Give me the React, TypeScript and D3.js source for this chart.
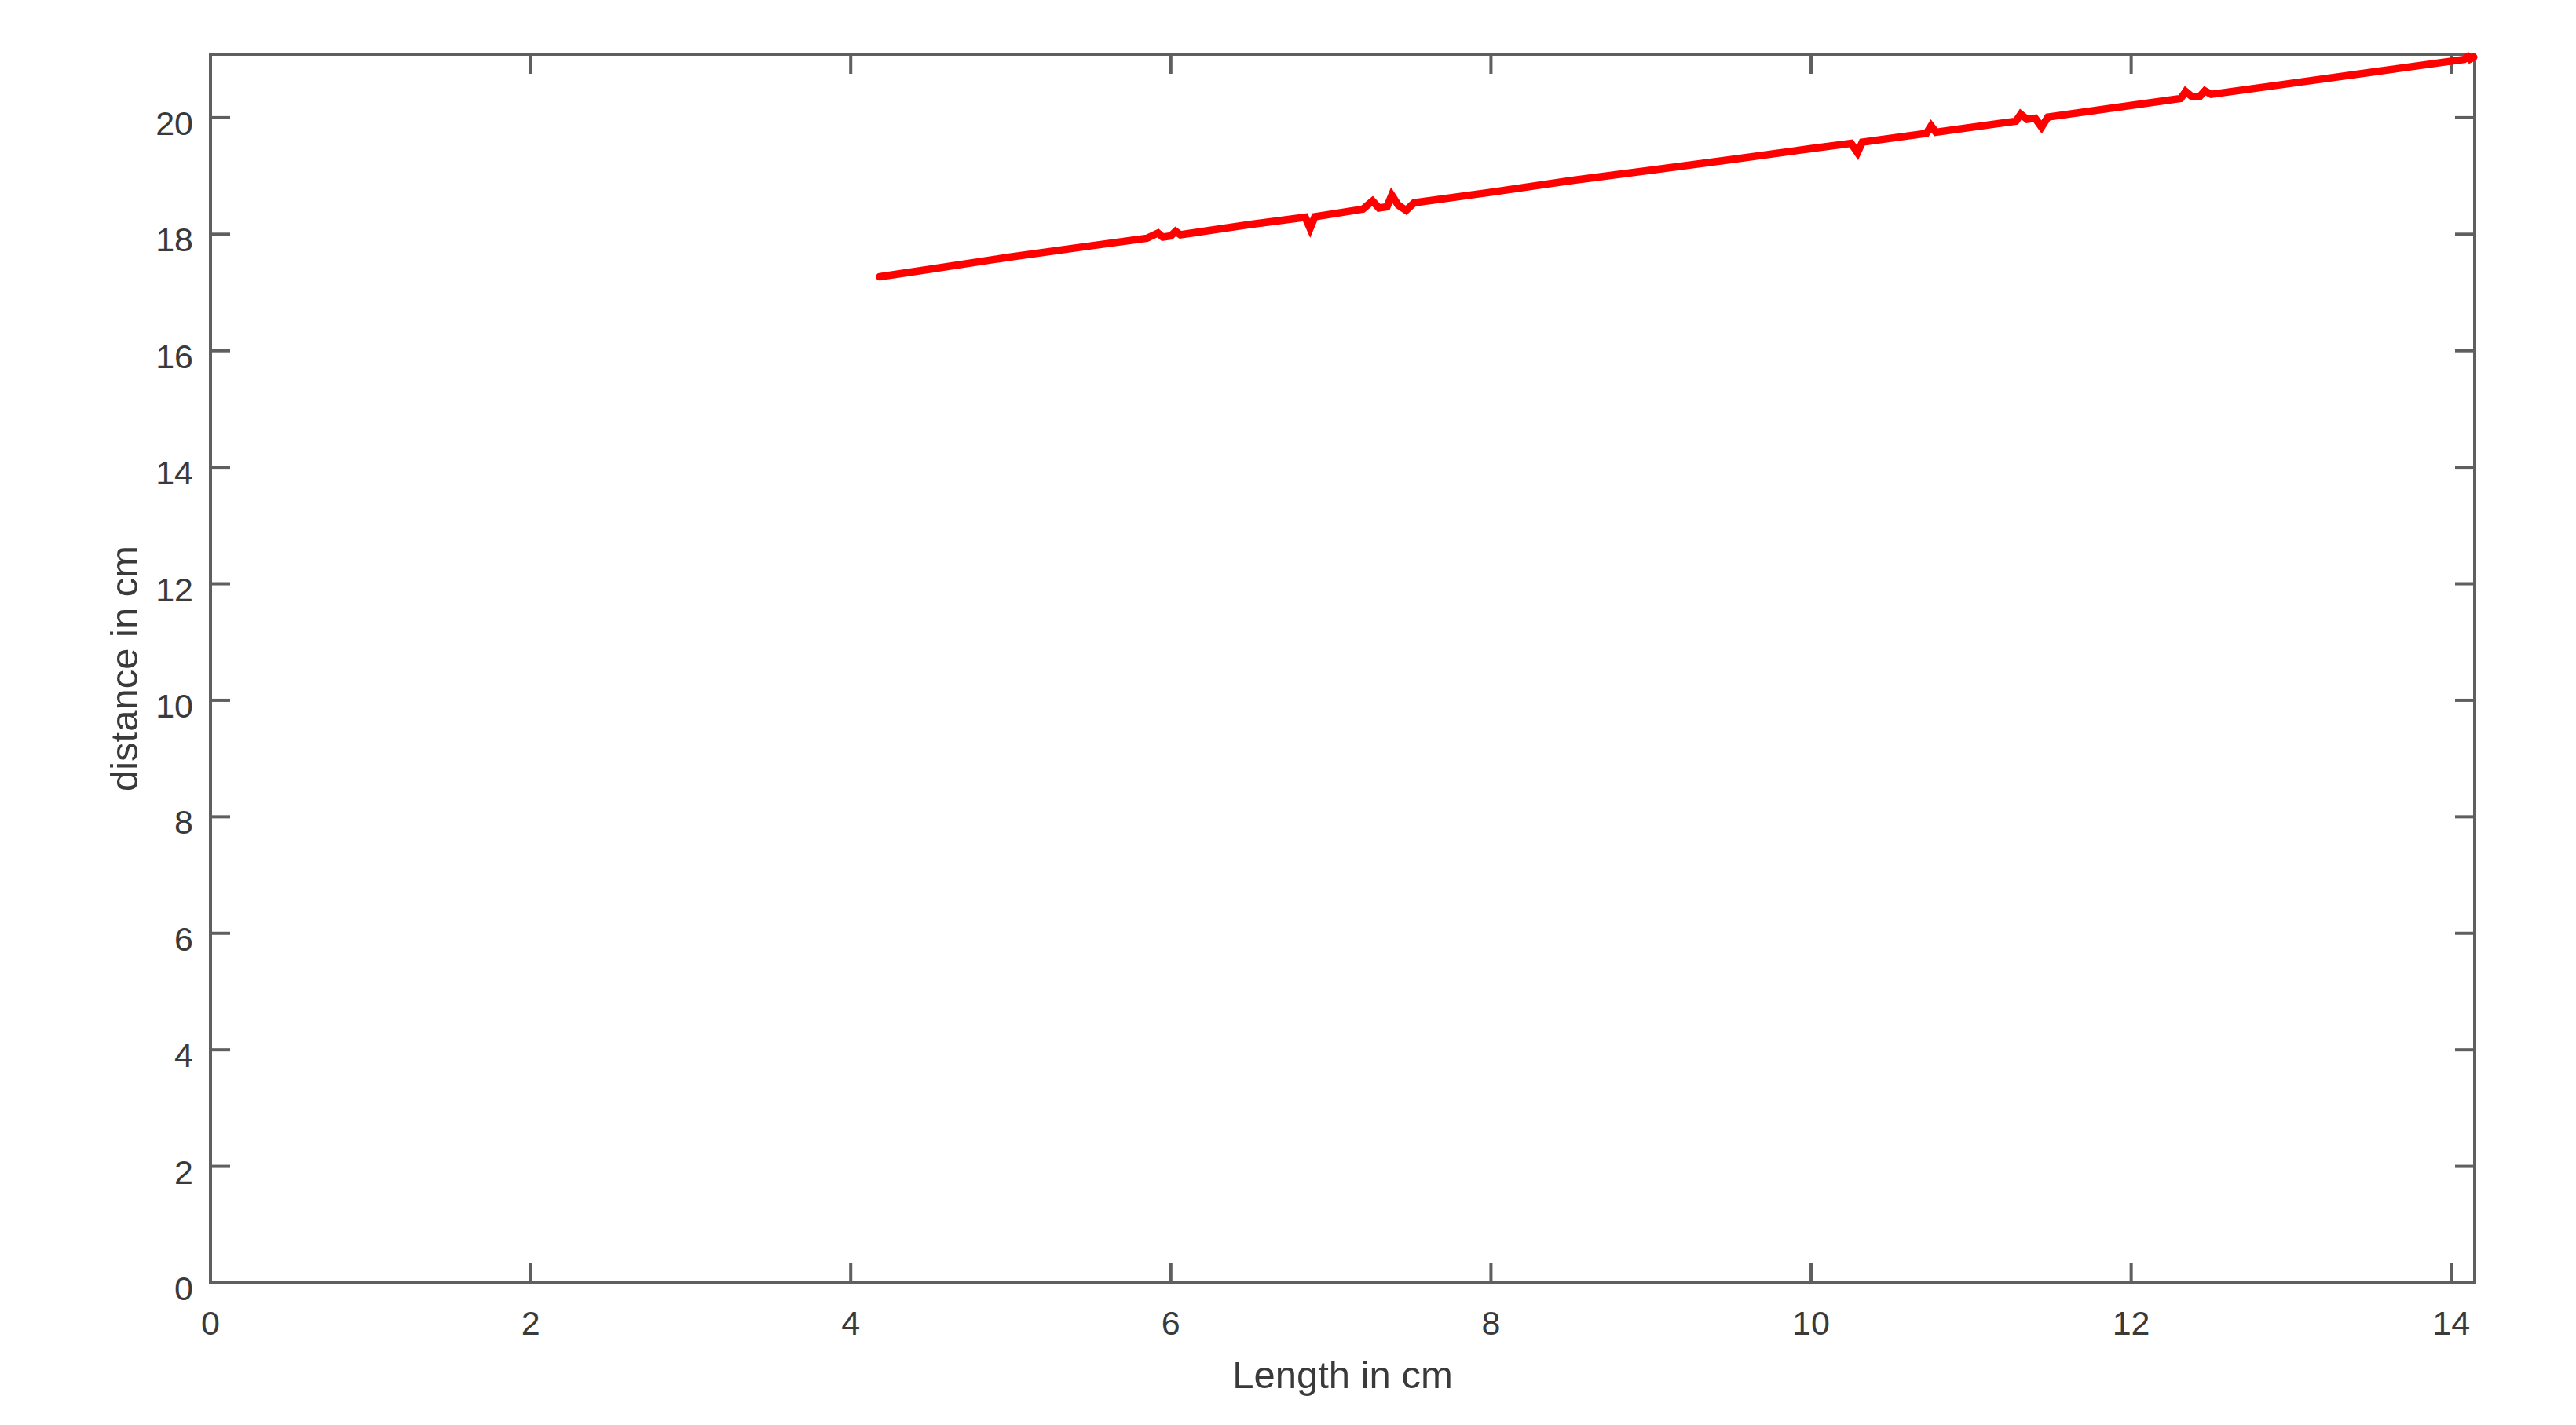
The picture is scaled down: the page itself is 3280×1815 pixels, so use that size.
import React from "react";
import * as d3 from "d3";

const xValues = [4.18, 4.5, 5.0, 5.5, 5.85, 5.92, 5.95, 6.0, 6.03, 6.06, 6.5, 6.84, 6.87, 6.9, 7.2, 7.26, 7.3, 7.35, 7.38, 7.42, 7.47, 7.52, 8.0, 8.5, 9.0, 9.5, 10.0, 10.25, 10.29, 10.32, 10.72, 10.75, 10.78, 11.28, 11.31, 11.35, 11.4, 11.44, 11.48, 12.0, 12.31, 12.34, 12.38, 12.43, 12.46, 12.5, 13.0, 13.5, 14.0, 14.08, 14.12, 14.1, 14.14];
const yValues = [17.27, 17.4, 17.61, 17.8, 17.93, 18.02, 17.95, 17.97, 18.05, 17.99, 18.17, 18.29, 18.1, 18.3, 18.43, 18.57, 18.45, 18.47, 18.67, 18.5, 18.41, 18.54, 18.72, 18.92, 19.1, 19.28, 19.47, 19.56, 19.4, 19.58, 19.73, 19.86, 19.75, 19.94, 20.06, 19.97, 19.99, 19.84, 20.01, 20.21, 20.33, 20.45, 20.36, 20.37, 20.46, 20.4, 20.59, 20.78, 20.97, 21.0, 21.08, 20.98, 21.04];
const xTicks = [0, 2, 4, 6, 8, 10, 12, 14];
const yTicks = [0, 2, 4, 6, 8, 10, 12, 14, 16, 18, 20];
const xLabel = "Length in cm";
const yLabel = "distance in cm";

export default function App() {
  const W = 3280, H = 1815;
  const L = 268, R = 3151, T = 69, B = 1634;
  const x = d3.scaleLinear().domain([0, 14.146]).range([L, R]);
  const y = d3.scaleLinear().domain([0, 21.09]).range([B, T]);
  const pts: [number, number][] = xValues.map((v, i) => [v, yValues[i]]);
  const line = d3.line<[number, number]>().x(d => x(d[0])).y(d => y(d[1]));
  const tickLen = 25;
  const frameColor = "#5f5f5f";
  const textColor = "#3a3a3a";
  const font = "'Liberation Sans', Arial, sans-serif";
  return (
    <svg width={W} height={H} style={{ position: "absolute", left: 0, top: 0, background: "#fff" }}>
      <rect x={0} y={0} width={W} height={H} fill="#fff" />
      {xTicks.map(t => (
        <g key={"xt" + t}>
          <line x1={x(t)} x2={x(t)} y1={B} y2={B - tickLen} stroke={frameColor} strokeWidth={4} />
          <line x1={x(t)} x2={x(t)} y1={T} y2={T + tickLen} stroke={frameColor} strokeWidth={4} />
          <text x={x(t)} y={B + 66} textAnchor="middle" fontFamily={font} fontSize={43} fill={textColor}>{t}</text>
        </g>
      ))}
      {yTicks.map(t => (
        <g key={"yt" + t}>
          <line x1={L} x2={L + tickLen} y1={y(t)} y2={y(t)} stroke={frameColor} strokeWidth={4} />
          <line x1={R} x2={R - tickLen} y1={y(t)} y2={y(t)} stroke={frameColor} strokeWidth={4} />
          <text x={246} y={y(t) + 22} textAnchor="end" fontFamily={font} fontSize={43} fill={textColor}>{t}</text>
        </g>
      ))}
      <rect x={L} y={T} width={R - L} height={B - T} fill="none" stroke={frameColor} strokeWidth={4} />
      <path d={line(pts) || ""} fill="none" stroke="#ff0000" strokeWidth={9.5} strokeLinejoin="miter" strokeMiterlimit={3} strokeLinecap="round" />
      <text x={(L + R) / 2} y={1768} textAnchor="middle" fontFamily={font} fontSize={49} fill={textColor}>{xLabel}</text>
      <text transform={`translate(175, ${(T + B) / 2}) rotate(-90)`} textAnchor="middle" fontFamily={font} fontSize={49} fill={textColor}>{yLabel}</text>
    </svg>
  );
}
